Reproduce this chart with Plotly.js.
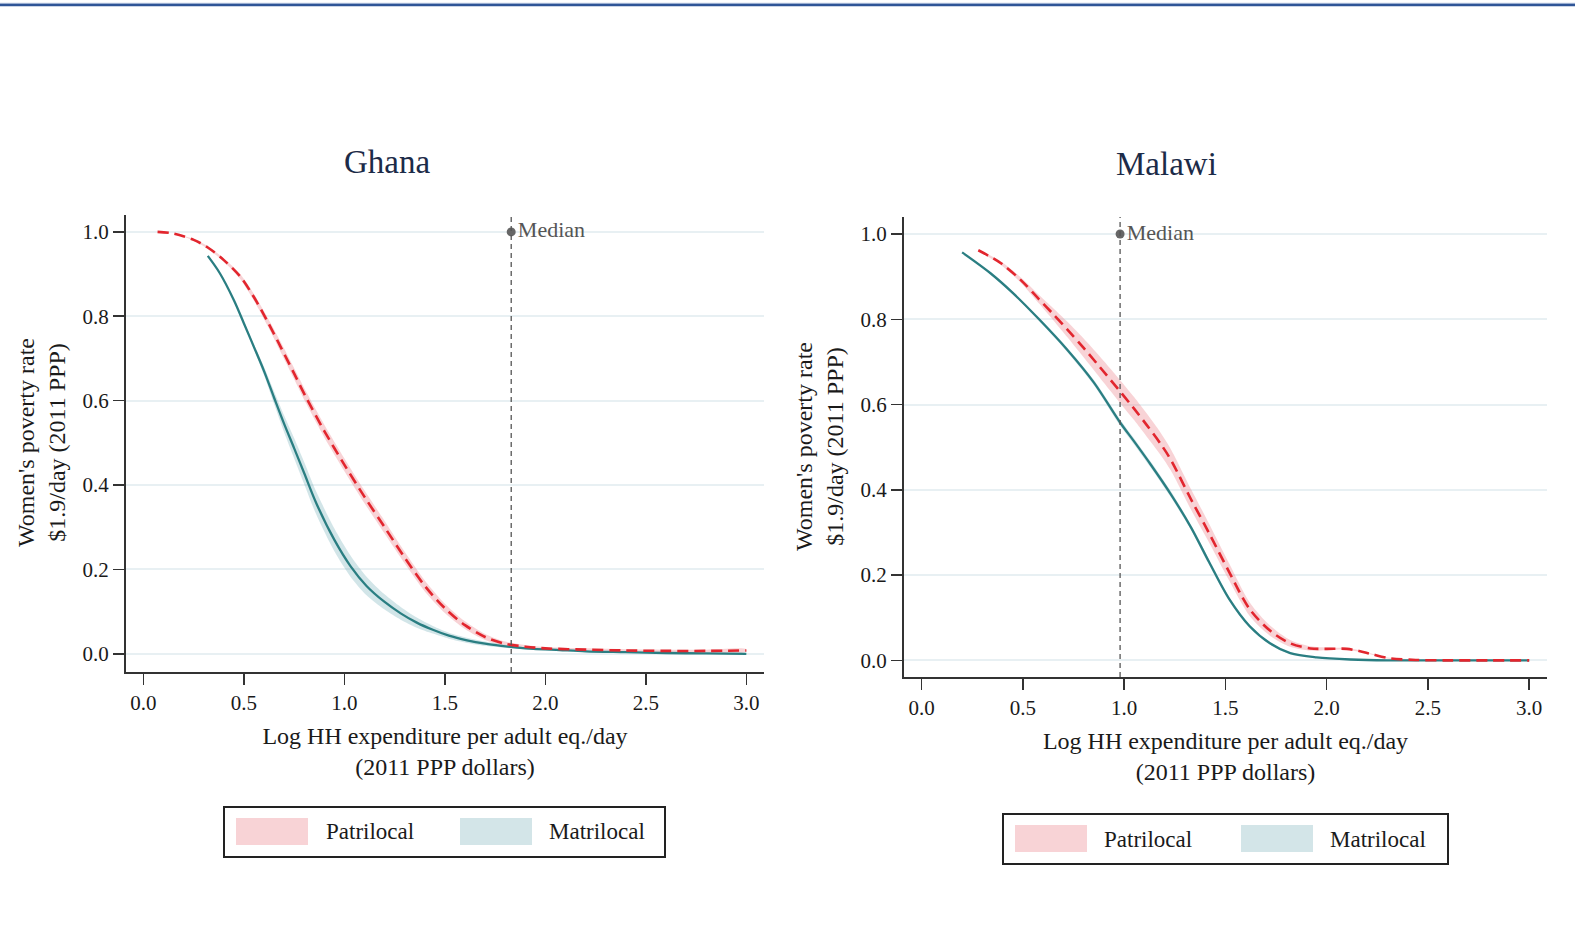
<!DOCTYPE html>
<html>
<head>
<meta charset="utf-8">
<script src="https://cdn.plot.ly/plotly-3.0.1.min.js"></script>
<style>html,body{margin:0;padding:0;background:#fff;}#chart{width:1575px;height:933px;}</style>
</head>
<body>
<div id="chart"></div>
<script>
// ---------- DATA ----------
const panelTitles = ["Ghana", "Malawi"];
const seriesNames = ["Patrilocal", "Matrilocal"];
const xTickVals = [0, 0.5, 1, 1.5, 2, 2.5, 3];
const xTickText = ["0.0", "0.5", "1.0", "1.5", "2.0", "2.5", "3.0"];
const yTickVals = [0, 0.2, 0.4, 0.6, 0.8, 1];
const yTickText = ["0.0", "0.2", "0.4", "0.6", "0.8", "1.0"];
const xTitle = "Log HH expenditure per adult eq./day<br>(2011 PPP dollars)";
const yTitle = "Women's poverty rate<br>$1.9/day (2011 PPP)";
const medianLabel = "Median";

const ghanaMedian = 1.83;
const malawiMedian = 0.98;

// Ghana – Patrilocal
const ghanaPatX  = [0.07,0.15,0.25,0.32,0.40,0.48,0.55,0.62,0.68,0.75,0.81,0.90,1.00,1.10,1.20,1.30,1.40,1.50,1.60,1.70,1.80,1.90,2.00,2.20,2.40,2.60,2.80,3.00];
const ghanaPatY  = [1.000,0.996,0.981,0.963,0.933,0.895,0.845,0.785,0.730,0.664,0.607,0.528,0.448,0.372,0.300,0.228,0.161,0.108,0.068,0.040,0.024,0.017,0.013,0.010,0.008,0.007,0.007,0.008];
const ghanaPatCI = [0.000,0.000,0.002,0.003,0.004,0.006,0.008,0.010,0.012,0.013,0.014,0.015,0.015,0.015,0.015,0.014,0.013,0.011,0.009,0.007,0.005,0.004,0.003,0.003,0.003,0.003,0.003,0.003];

// Ghana – Matrilocal
const ghanaMatX  = [0.32,0.38,0.45,0.50,0.55,0.60,0.65,0.70,0.75,0.80,0.86,0.95,1.03,1.11,1.20,1.28,1.36,1.44,1.52,1.61,1.70,1.78,1.86,1.94,2.07,2.20,2.40,2.60,2.80,3.00];
const ghanaMatY  = [0.943,0.902,0.838,0.783,0.727,0.670,0.607,0.545,0.487,0.428,0.357,0.270,0.208,0.161,0.123,0.096,0.074,0.057,0.043,0.032,0.024,0.019,0.015,0.012,0.009,0.006,0.004,0.002,0.001,0.000];
const ghanaMatCI = [0.000,0.001,0.002,0.004,0.006,0.010,0.015,0.020,0.024,0.026,0.027,0.027,0.025,0.022,0.018,0.015,0.012,0.009,0.007,0.006,0.005,0.004,0.003,0.002,0.002,0.001,0.001,0.001,0.001,0.001];

// Malawi – Patrilocal
const malawiPatX  = [0.28,0.39,0.49,0.58,0.65,0.72,0.80,0.88,0.99,1.05,1.11,1.18,1.23,1.33,1.42,1.52,1.62,1.72,1.82,1.92,2.00,2.10,2.16,2.22,2.31,2.44,2.60,2.80,3.00];
const malawiPatY  = [0.962,0.932,0.892,0.847,0.812,0.776,0.733,0.688,0.625,0.590,0.553,0.508,0.471,0.378,0.298,0.206,0.120,0.070,0.040,0.028,0.027,0.027,0.022,0.015,0.005,0.001,0.000,0.000,0.000];
const malawiPatCI = [0.002,0.004,0.006,0.010,0.014,0.018,0.022,0.025,0.027,0.027,0.027,0.026,0.025,0.024,0.022,0.020,0.016,0.012,0.008,0.005,0.003,0.002,0.002,0.001,0.001,0.001,0.000,0.000,0.000];

// Malawi – Matrilocal
const malawiMatX  = [0.20,0.34,0.45,0.58,0.72,0.85,0.98,1.05,1.13,1.23,1.33,1.42,1.52,1.62,1.72,1.82,1.95,2.12,2.30,2.60,3.00];
const malawiMatY  = [0.957,0.908,0.862,0.800,0.728,0.652,0.558,0.513,0.460,0.390,0.312,0.230,0.143,0.080,0.040,0.017,0.007,0.002,0.000,0.000,0.000];
const malawiMatCI = [0.001,0.002,0.003,0.004,0.005,0.006,0.007,0.007,0.007,0.007,0.006,0.006,0.005,0.004,0.003,0.002,0.001,0.001,0.000,0.000,0.000];

// ---------- STYLE ----------
const W = 1575, H = 933;
const px = v => v / W;
const py = v => 1 - v / H;
const FONT = "Liberation Serif, Times New Roman, serif";
const RED = "#e2262e";
const TEAL = "#2a7e82";
const PINK_FILL = "rgba(235,120,130,0.33)";
const TEAL_FILL = "rgba(90,160,170,0.27)";
const PINK_SW = "rgb(248,211,214)";
const TEAL_SW = "rgb(211,229,232)";
const AXIS = "#333333";
const GRID = "#e8f0f3";

function band(x, y, ci, color, xa, ya) {
  const up = y.map((v, i) => v + ci[i]);
  const lo = y.map((v, i) => Math.max(0, v - ci[i]));
  return {
    x: x.concat(x.slice().reverse()),
    y: up.concat(lo.slice().reverse()),
    fill: "toself", fillcolor: color, mode: "lines",
    line: {width: 0, color: "rgba(0,0,0,0)", shape: "spline", smoothing: 0.8},
    hoverinfo: "skip", showlegend: false, xaxis: xa, yaxis: ya
  };
}
function line(x, y, color, dash, width, name, xa, ya) {
  return {x: x, y: y, mode: "lines", name: name,
    line: {color: color, dash: dash, width: width, shape: "spline", smoothing: 0.9},
    showlegend: false, xaxis: xa, yaxis: ya};
}
function medianPt(m, xa, ya) {
  return {x: [m], y: [1], mode: "markers+text", text: [medianLabel],
    textposition: "middle right",
    textfont: {family: FONT, size: 22, color: "#555"},
    marker: {color: "#666", size: 9}, showlegend: false, xaxis: xa, yaxis: ya, cliponaxis: false};
}

const traces = [
  band(ghanaPatX, ghanaPatY, ghanaPatCI, PINK_FILL, "x", "y"),
  band(ghanaMatX, ghanaMatY, ghanaMatCI, TEAL_FILL, "x", "y"),
  line(ghanaMatX, ghanaMatY, TEAL, "solid", 2.3, seriesNames[1], "x", "y"),
  line(ghanaPatX, ghanaPatY, RED, "11px,6px", 2.6, seriesNames[0], "x", "y"),
  medianPt(ghanaMedian, "x", "y"),
  band(malawiPatX, malawiPatY, malawiPatCI, PINK_FILL, "x2", "y2"),
  band(malawiMatX, malawiMatY, malawiMatCI, TEAL_FILL, "x2", "y2"),
  line(malawiMatX, malawiMatY, TEAL, "solid", 2.3, seriesNames[1], "x2", "y2"),
  line(malawiPatX, malawiPatY, RED, "11px,6px", 2.6, seriesNames[0], "x2", "y2"),
  medianPt(malawiMedian, "x2", "y2")
];

function xaxis(dom, anchor) {
  return {domain: dom, anchor: anchor, range: [-0.087, 3.088],
    tickvals: xTickVals, ticktext: xTickText, ticks: "outside", ticklen: 11, tickwidth: 1.6,
    tickcolor: AXIS, showline: true, linecolor: AXIS, linewidth: 2, showgrid: false, zeroline: false,
    tickfont: {family: FONT, size: 21, color: "#1a1a1a"},
    title: {text: xTitle, font: {family: FONT, size: 24, color: "#1a1a1a"}, standoff: 13},
    automargin: false, fixedrange: true};
}
function yaxis(dom, anchor, r) {
  return {domain: dom, anchor: anchor, range: r,
    tickvals: yTickVals, ticktext: yTickText, ticks: "outside", ticklen: 11, tickwidth: 1.6,
    tickcolor: AXIS, showline: true, linecolor: AXIS, linewidth: 2, showgrid: true,
    gridcolor: GRID, gridwidth: 2, zeroline: false,
    tickfont: {family: FONT, size: 21, color: "#1a1a1a"},
    automargin: false, fixedrange: true};
}

const gX = [px(126), px(764)], gY = [py(672), py(215)];
const mX = [px(904), px(1547)], mY = [py(677), py(217)];

function legendBox(x0, x1, y0, y1, sw1, sw2) {
  return [
    {type: "rect", xref: "paper", yref: "paper", x0: px(x0), x1: px(x1), y0: py(y1), y1: py(y0),
      line: {color: "#222", width: 2}, fillcolor: "rgba(0,0,0,0)"},
    {type: "rect", xref: "paper", yref: "paper", x0: px(sw1), x1: px(sw1 + 72), y0: py(y0 + 38), y1: py(y0 + 11),
      line: {width: 0}, fillcolor: PINK_SW},
    {type: "rect", xref: "paper", yref: "paper", x0: px(sw2), x1: px(sw2 + 72), y0: py(y0 + 38), y1: py(y0 + 11),
      line: {width: 0}, fillcolor: TEAL_SW}
  ];
}
function legendText(x, y, t) {
  return {xref: "paper", yref: "paper", x: px(x), y: py(y), text: t, showarrow: false,
    xanchor: "left", yanchor: "middle", font: {family: FONT, size: 23, color: "#1a1a1a"}};
}
function medianShape(m, xa, ya) {
  return {type: "line", xref: xa, yref: ya + " domain", x0: m, x1: m, y0: 0, y1: 1,
    line: {color: "#555", width: 1.3, dash: "5px,4px"}};
}

const shapes = [
  {type: "line", xref: "paper", yref: "paper", x0: 0, x1: 1, y0: py(3.3), y1: py(3.3), line: {color: "#aebfdd", width: 1}},
  {type: "line", xref: "paper", yref: "paper", x0: 0, x1: 1, y0: py(5), y1: py(5), line: {color: "#2f5597", width: 2.6}},
  medianShape(ghanaMedian, "x", "y"),
  medianShape(malawiMedian, "x2", "y2")
].concat(legendBox(224, 665, 807, 857, 236, 460))
 .concat(legendBox(1003, 1448, 814, 864, 1015, 1241));

const annotations = [
  {xref: "paper", yref: "paper", x: px(387), y: py(162), text: panelTitles[0], showarrow: false,
    xanchor: "center", yanchor: "middle", font: {family: FONT, size: 33, color: "#1c2b48"}},
  {xref: "paper", yref: "paper", x: px(1166), y: py(164), text: panelTitles[1], showarrow: false,
    xanchor: "center", yanchor: "middle", font: {family: FONT, size: 33, color: "#1c2b48"}},
  {xref: "paper", yref: "paper", x: px(41), y: py(443), text: yTitle, textangle: -90, showarrow: false,
    xanchor: "center", yanchor: "middle", font: {family: FONT, size: 24, color: "#1a1a1a"}},
  {xref: "paper", yref: "paper", x: px(819), y: py(447), text: yTitle, textangle: -90, showarrow: false,
    xanchor: "center", yanchor: "middle", font: {family: FONT, size: 24, color: "#1a1a1a"}},
  legendText(324, 831, seriesNames[0]),
  legendText(547, 831, seriesNames[1]),
  legendText(1102, 839, seriesNames[0]),
  legendText(1328, 839, seriesNames[1])
];

const layout = {
  width: W, height: H, margin: {l: 0, r: 0, t: 0, b: 0},
  paper_bgcolor: "#fff", plot_bgcolor: "#fff", showlegend: false,
  xaxis: xaxis(gX, "y"), yaxis: yaxis(gY, "x", [-0.043, 1.040]),
  xaxis2: xaxis(mX, "y2"), yaxis2: yaxis(mY, "x2", [-0.039, 1.040]),
  shapes: shapes, annotations: annotations
};

Plotly.newPlot("chart", traces, layout, {displayModeBar: false, staticPlot: true});
</script>
</body>
</html>
